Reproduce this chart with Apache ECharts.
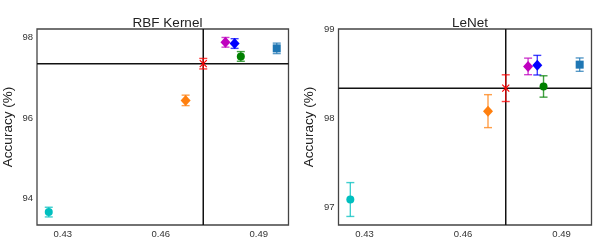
<!DOCTYPE html>
<html>
<head>
<meta charset="utf-8">
<script src="https://cdn.jsdelivr.net/npm/echarts@6/dist/echarts.min.js"></script>
<style>html,body{margin:0;padding:0;background:#fff}#c{width:598px;height:243px}</style>
</head>
<body>
<div id="c"></div>
<script>
// ---- data ----
var methodNames = ['cyan', 'orange', 'baseline', 'magenta', 'blue', 'green', 'square'];
var ratio = [0.4257, 0.4676, 0.4730, 0.4798, 0.4826, 0.4845, 0.4955];
var rbfAcc = [93.67, 96.44, 97.35, 97.88, 97.85, 97.53, 97.73];
var rbfErr = [0.12, 0.13, 0.13, 0.12, 0.12, 0.12, 0.13];
var lenetAcc = [97.086, 98.078, 98.336, 98.58, 98.594, 98.355, 98.60];
var lenetErr = [0.19, 0.185, 0.15, 0.093, 0.11, 0.12, 0.075];
var xTicks = [0.43, 0.46, 0.49];
var rbfYTicks = [94, 96, 98];
var lenetYTicks = [97, 98, 99];
var panelTitles = ['RBF Kernel', 'LeNet'];
var baselineIndex = 2;

// ---- styles ----
var colors = ['#00bfbf', '#ff7f0e', '#ff0000', '#bf00bf', '#0000ff', '#008000', '#1f77b4'];
var symbols = ['circle', 'diamond', 'path://M0,0L10,10M10,0L0,10', 'diamond', 'diamond', 'circle', 'rect'];
var sizes = [8, [10, 11], 7, [10, 11], [10, 11], 8, 8];
var FONT = '"Liberation Sans", Arial, sans-serif';

var chart = echarts.init(document.getElementById('c'), null, {renderer: 'canvas'});

function xAxisFor(gi) {
  return {
    gridIndex: gi, type: 'value', min: 0.4221, max: 0.4991,
    axisLine: {show: false}, axisTick: {show: false}, splitLine: {show: false},
    axisLabel: {customValues: xTicks, margin: 4, fontSize: 9.5, color: '#333', fontFamily: FONT,
      formatter: function (v) { return v.toFixed(2); }}
  };
}
function yAxisFor(gi, min, max, ticks) {
  return {
    gridIndex: gi, type: 'value', min: min, max: max,
    name: 'Accuracy (%)', nameLocation: 'middle', nameGap: 22,
    nameTextStyle: {fontSize: 13.5, color: '#222', fontFamily: FONT},
    axisLine: {show: false}, axisTick: {show: false}, splitLine: {show: false},
    axisLabel: {customValues: ticks, margin: 4, fontSize: 9.5, color: '#333', fontFamily: FONT}
  };
}

function crossSeries(gi, acc) {
  return {
    type: 'custom', xAxisIndex: gi, yAxisIndex: gi, z: 2, silent: true,
    data: [[ratio[baselineIndex], acc[baselineIndex]]],
    renderItem: function (params, api) {
      var p = api.coord([api.value(0), api.value(1)]);
      var cs = params.coordSys;
      var st = {stroke: '#111', lineWidth: 1.5};
      return {type: 'group', children: [
        {type: 'line', shape: {x1: p[0], y1: cs.y, x2: p[0], y2: cs.y + cs.height}, style: st},
        {type: 'line', shape: {x1: cs.x, y1: p[1], x2: cs.x + cs.width, y2: p[1]}, style: st}
      ]};
    }
  };
}

function errSeries(gi, acc, err) {
  var data = ratio.map(function (x, i) { return [x, acc[i] - err[i], acc[i] + err[i], i]; });
  return {
    type: 'custom', xAxisIndex: gi, yAxisIndex: gi, z: 3, silent: true,
    data: data,
    renderItem: function (params, api) {
      var lo = api.coord([api.value(0), api.value(1)]);
      var hi = api.coord([api.value(0), api.value(2)]);
      var c = colors[api.value(3)];
      var hw = 4;
      var st = {stroke: c, lineWidth: 1.4, opacity: 0.75};
      return {type: 'group', children: [
        {type: 'line', shape: {x1: lo[0], y1: lo[1], x2: hi[0], y2: hi[1]}, style: st},
        {type: 'line', shape: {x1: lo[0] - hw, y1: lo[1], x2: lo[0] + hw, y2: lo[1]}, style: st},
        {type: 'line', shape: {x1: hi[0] - hw, y1: hi[1], x2: hi[0] + hw, y2: hi[1]}, style: st}
      ]};
    }
  };
}

function markerSeries(gi, acc) {
  return ratio.map(function (x, i) {
    var isX = i === baselineIndex;
    return {
      type: 'scatter', xAxisIndex: gi, yAxisIndex: gi, z: 4, silent: true,
      symbol: symbols[i], symbolSize: sizes[i],
      data: [[x, acc[i]]],
      itemStyle: isX ? {color: 'rgba(0,0,0,0)', borderColor: colors[i], borderWidth: 1.2, opacity: 1}
                     : {color: colors[i], opacity: 1},
      emphasis: {disabled: true}
    };
  });
}

var series = [];
series.push(crossSeries(0, rbfAcc));
series.push(errSeries(0, rbfAcc, rbfErr));
series = series.concat(markerSeries(0, rbfAcc));
series.push(crossSeries(1, lenetAcc));
series.push(errSeries(1, lenetAcc, lenetErr));
series = series.concat(markerSeries(1, lenetAcc));

chart.setOption({
  animation: false,
  backgroundColor: '#fff',
  title: [
    {text: panelTitles[0], left: 162.5, top: 11, textAlign: 'center',
     textStyle: {fontSize: 13.5, fontWeight: 'normal', color: '#222', fontFamily: FONT}},
    {text: panelTitles[1], left: 465, top: 11, textAlign: 'center',
     textStyle: {fontSize: 13.5, fontWeight: 'normal', color: '#222', fontFamily: FONT}}
  ],
  grid: [
    {left: 36, top: 29, right: 309.5, bottom: 18, show: true, borderColor: '#444', borderWidth: 1.3, backgroundColor: 'transparent'},
    {left: 338.5, top: 29, right: 6.5, bottom: 18, show: true, borderColor: '#444', borderWidth: 1.3, backgroundColor: 'transparent'}
  ],
  xAxis: [xAxisFor(0), xAxisFor(1)],
  yAxis: [yAxisFor(0, 93.35, 98.21, rbfYTicks), yAxisFor(1, 96.8, 99.0, lenetYTicks)],
  series: series
});
</script>
</body>
</html>
